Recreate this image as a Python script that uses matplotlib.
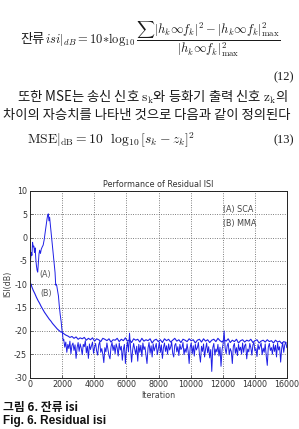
import numpy as np
import matplotlib
matplotlib.use("Agg")
import matplotlib.pyplot as plt

plt.rcParams['mathtext.fontset'] = 'cm'

# ---------------- data ----------------
early_iter_a = [0, 40, 80, 120, 160, 200, 240, 280, 320, 360, 400, 440, 480, 520, 560,
                600, 650, 700, 760, 820, 880, 940, 1000, 1060, 1100, 1140, 1180, 1220,
                1260, 1320, 1380, 1440, 1500, 1560, 1600, 1650, 1700, 1770, 1820, 1880,
                1940, 1980, 2020, 2060]
early_isi_a = [-7.0, -4.5, -3.2, -3.8, -1.0, -2.0, -1.8, -3.2, -2.2, -4.5, -6.0, -7.0, -7.4,
               -5.5, -3.5, -2.7, -3.4, -2.5, -2.0, -1.6, -0.5, 1.0, 2.5, 4.0, 4.8, 5.1, 3.6,
               4.4, 3.0, 1.0, -1.2, -3.5, -5.5, -7.5, -10.2, -10.0, -11.0, -12.5, -14.5,
               -16.5, -18.0, -19.5, -20.5, -22.0]
steady_isi_a = [
    -21.8, -23.5, -22.4, -24.6, -22.9, -23.8, -22.2, -24.9, -23.1, -22.6,
    -24.2, -23.0, -25.9, -23.6, -22.5, -24.4, -22.8, -23.7, -25.1, -22.9,
    -23.4, -22.1, -24.7, -23.3, -25.9, -22.8, -24.0, -23.2, -22.4, -24.8,
    -23.5, -22.7, -24.3, -25.2, -23.0, -22.3, -24.6, -23.8, -25.0, -26.8,
    -23.6, -24.5, -22.6, -23.9, -25.3, -26.0, -23.4, -22.5, -24.2, -23.1,
    -24.9, -22.8, -23.7, -25.4, -22.6, -24.1, -23.3, -26.3, -24.0, -22.9,
    -27.0, -23.8, -22.4, -24.5, -20.5, -23.6, -26.7, -24.2, -22.7, -23.9,
    -25.0, -23.3, -26.5, -22.9, -24.6, -23.1, -25.5, -22.6, -24.0, -23.4,
    -25.2, -27.0, -23.7, -22.5, -24.8, -23.2, -25.6, -22.8, -24.3, -23.5,
    -22.7, -25.1, -23.9, -22.4, -24.6, -23.0, -25.9, -23.6, -22.6, -24.4,
    -23.2, -25.0, -22.8, -24.1, -23.5, -22.4, -24.8, -25.6, -23.1, -22.7,
    -24.5, -23.4, -25.3, -22.9, -24.0, -23.6, -22.5, -25.1, -23.8, -24.6,
    -22.8, -24.3, -27.0, -23.5, -22.6, -24.9, -23.2, -25.4, -22.9, -24.1,
    -23.6, -22.5, -25.0, -26.7, -23.3, -24.4, -22.8, -25.6, -23.9, -22.6,
    -24.7, -23.4, -25.8, -24.0, -28.7, -23.6, -22.7, -25.2, -23.9, -24.5,
    -22.9, -25.4, -23.5, -27.6, -24.1, -22.8, -20.0, -23.7, -24.9, -23.2,
    -22.6, -25.1, -23.8, -24.4, -27.0, -23.3, -22.7, -24.8, -23.6, -25.3,
    -22.9, -24.2, -23.5, -25.0, -22.6, -24.6, -23.2, -22.8, -26.0, -23.9,
    -24.5, -22.7, -23.6, -25.2, -23.0, -22.5, -24.3, -23.8, -25.5, -22.9,
    -24.0, -23.3, -22.6, -25.1, -23.7, -24.6, -22.8, -25.4, -27.4, -23.5,
    -22.7, -24.2, -23.6, -25.0, -22.9, -24.4, -23.1, -25.6, -22.6, -24.1,
    -23.4, -26.7, -23.8, -22.5, -24.6, -23.0, -22.4, -23.6]
steady_iter_a = list(range(2100, 16001, 64))

early_iter_b = [0, 60, 120, 200, 300, 400, 500, 600, 700, 800, 900, 1000, 1100, 1200,
                1300, 1400, 1500, 1600, 1700, 1800, 1900, 2000]
early_isi_b = [-9.5, -10.0, -10.6, -11.3, -12.0, -12.8, -13.5, -14.1, -14.8, -15.4, -16.0,
               -16.5, -17.0, -17.5, -17.9, -18.4, -18.8, -19.2, -19.6, -19.9, -20.2, -20.3]
steady_isi_b = [
    -20.6, -20.9, -21.1, -21.4, -21.2, -21.6, -21.3, -21.8, -21.5, -21.7,
    -21.4, -22.0, -21.6, -21.9, -21.5, -22.2, -21.7, -21.9, -22.3, -21.6,
    -21.8, -22.1, -21.7, -22.4, -21.9, -22.0, -21.6, -22.3, -21.8, -22.1,
    -21.5, -22.2, -21.9, -22.5, -21.7, -22.0, -21.8, -22.4, -21.6, -22.2,
    -21.9, -22.1, -21.7, -22.6, -22.0, -21.8, -22.3, -21.9, -22.5, -21.7,
    -22.1, -21.8, -22.4, -22.0, -21.6, -22.2, -21.9, -22.5, -21.8, -22.0,
    -22.3, -21.7, -22.1, -21.9, -22.6, -22.0, -21.8, -22.4, -21.7, -22.2,
    -21.9, -22.5, -22.0, -21.8, -22.3, -21.6, -22.1, -22.4, -21.9, -22.2,
    -21.7, -22.5, -22.0, -22.3, -21.8, -22.6, -22.1, -21.9, -22.4, -22.0,
    -22.2, -21.8, -22.5, -22.1, -21.9, -22.6, -22.2, -22.0, -22.4, -21.9,
    -22.3, -22.1, -22.6, -22.0, -22.4, -22.2, -22.7, -22.3, -22.5]
steady_iter_b = list(range(2100, 16001, 128))

x_ticks = [0, 2000, 4000, 6000, 8000, 10000, 12000, 14000, 16000]
y_ticks = [-30, -25, -20, -15, -10, -5, 0, 5, 10]

title = "Performance of Residual ISI"
xlabel = "Iteration"
ylabel = "ISI(dB)"
legend_lines = ["(A) SCA", "(B) MMA"]

# ---------------- figure ----------------
W, H = 299, 429
fig = plt.figure(figsize=(W / 100, H / 100), dpi=100)
fig.patch.set_facecolor('white')

def fx(px):
    return px / W

def fy(py):
    return 1 - py / H

KR = ['Noto Sans CJK KR', 'DejaVu Sans']
txt_col = '#1a1a1a'

# equation (12)
fig.text(fx(20), fy(39), "잔류", family=KR, fontsize=9.5, color=txt_col, va='center', ha='left')
fig.text(fx(45), fy(39),
         r"$isi|_{dB} = 10{*}\log_{10}\dfrac{\sum|h_k\infty f_k|^2 - |h_k\infty f_k|^2_{\max}}{|h_k\infty f_k|^2_{\max}}$",
         fontsize=9, color=txt_col, va='center', ha='left')
fig.text(fx(294), fy(77), "(12)", family='Liberation Serif', fontsize=9, color=txt_col,
         va='center', ha='right')
fig.text(fx(17), fy(97), r"또한 MSE는 송신 신호 $\mathrm{s_k}$와 등화기 출력 신호 $\mathrm{z_k}$의",
         family=KR, fontsize=9.6, color=txt_col, va='center', ha='left')
fig.text(fx(3), fy(115), "차이의 자승치를 나타낸 것으로 다음과 같이 정의된다",
         family=KR, fontsize=9.6, color=txt_col, va='center', ha='left')
fig.text(fx(27), fy(140), r"$\mathrm{MSE}|_{\mathrm{dB}} = 10\ \ \log_{10}[s_k - z_k]^2$",
         fontsize=9.8, color=txt_col, va='center', ha='left')
fig.text(fx(294), fy(140), "(13)", family='Liberation Serif', fontsize=9, color=txt_col,
         va='center', ha='right')

# chart
ax = fig.add_axes([fx(30), fy(377.5), fx(287) - fx(30), fy(191) - fy(377.5)])
line_col = '#1f1fe6'
ax.plot(early_iter_b + steady_iter_b, early_isi_b + steady_isi_b, color=line_col, lw=0.8)
ax.plot(early_iter_a + steady_iter_a, early_isi_a + steady_isi_a, color=line_col, lw=0.7)

ax.set_xlim(0, 16000)
ax.set_ylim(-30, 10)
ax.set_xticks(x_ticks)
ax.set_yticks(y_ticks)
ax.set_xticklabels([str(v) for v in x_ticks])
ax.set_yticklabels([str(v) for v in y_ticks])
ax.tick_params(direction='in', length=2, width=0.5, labelsize=5.8, colors='#333333', pad=2)
ax.grid(True, linestyle=(0, (1.0, 1.8)), color='#555555', linewidth=0.6)
for s in ax.spines.values():
    s.set_linewidth(0.7)
    s.set_color('#222222')

ax.set_title(title, fontsize=5.8, color='#333333', pad=3, family='DejaVu Sans')
ax.set_xlabel(xlabel, fontsize=5.8, color='#444444', labelpad=1)
ax.set_ylabel(ylabel, fontsize=5.8, color='#444444', labelpad=1)

ax.text(960, -7.9, "(A)", fontsize=5.8, color='#555555', ha='center', va='center')
ax.text(1000, -12.0, "(B)", fontsize=5.8, color='#555555', ha='center', va='center')
ax.text(12000, 6.0, legend_lines[0], fontsize=5.8, color='#444444', ha='left', va='center')
ax.text(12000, 3.0, legend_lines[1], fontsize=5.8, color='#444444', ha='left', va='center')

# caption
fig.text(fx(3), fy(407), "그림 6. 잔류 isi", family=KR, fontsize=8.5, fontweight='bold',
         color='#111111', va='center', ha='left')
fig.text(fx(3), fy(421), "Fig. 6. Residual isi", family='Liberation Sans', fontsize=8.5,
         fontweight='bold', color='#111111', va='center', ha='left')

fig.savefig("out.png", dpi=100)
